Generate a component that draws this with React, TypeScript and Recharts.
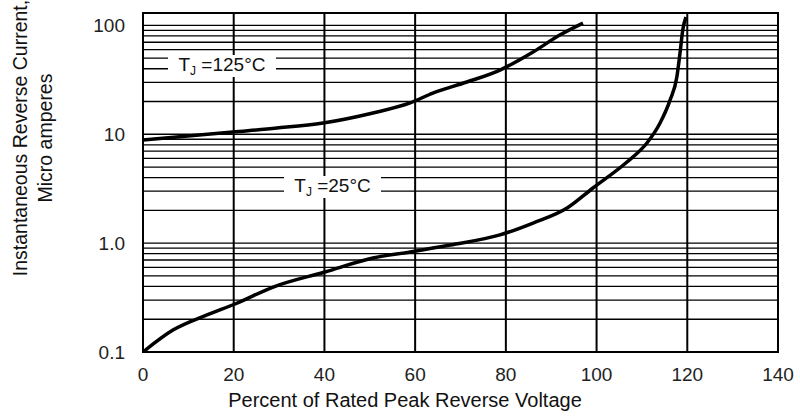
import {
  LineChart,
  Line,
  XAxis,
  YAxis,
  CartesianGrid,
  ReferenceArea,
} from "recharts";

// percent of rated peak reverse voltage vs reverse current (uA)
const pctT125 = [0, 19.8, 29.5, 39.7, 50.7, 58.9, 63.9, 71.4, 78.7, 86.0, 91.9, 97.0];
const curT125 = [8.86, 10.5, 11.4, 12.7, 15.7, 19.4, 23.9, 30.2, 38.9, 57.0, 81.6, 105];

const pctT25 = [
  0, 6.6, 14.1, 20.3, 28.7, 40.1, 50.7, 58.9, 67.7, 78.7, 86.0, 93.5, 99.2,
  106.7, 111.1, 114.0, 116.2, 117.7, 118.4, 119.0, 119.7,
];
const curT25 = [
  0.1, 0.159, 0.219, 0.276, 0.395, 0.543, 0.73, 0.829, 0.961, 1.19, 1.53, 2.1,
  3.21, 5.56, 8.31, 12.7, 20.6, 33.6, 55.8, 90.7, 119,
];

const X_TICKS = [0, 20, 40, 60, 80, 100, 120, 140];
const Y_TICKS = [
  0.1, 0.2, 0.3, 0.4, 0.5, 0.6, 0.7, 0.8, 0.9,
  1, 2, 3, 4, 5, 6, 7, 8, 9,
  10, 20, 30, 40, 50, 60, 70, 80, 90,
  100,
];
const Y_LABELS: Record<string, string> = { "0.1": "0.1", "1": "1.0", "10": "10", "100": "100" };

const FONT = "'Liberation Sans', Arial, sans-serif";

const dataT125 = pctT125.map((p, i) => ({ pct: p, cur: curT125[i] }));
const dataT25 = pctT25.map((p, i) => ({ pct: p, cur: curT25[i] }));

function TempLabel({ left, top, width, temp }: { left: number; top: number; width: number; temp: string }) {
  return (
    <div
      style={{
        position: "absolute",
        left,
        top,
        width,
        height: 22,
        background: "#fff",
        fontFamily: FONT,
        fontSize: 19,
        color: "#111",
        lineHeight: "20px",
        textAlign: "center",
        whiteSpace: "nowrap",
      }}
    >
      T<sub style={{ fontSize: 12, verticalAlign: "-4px" }}>J</sub> ={temp}°C
    </div>
  );
}

export default function App() {
  return (
    <div style={{ position: "absolute", left: 0, top: 0, width: 800, height: 419, background: "#fff" }}>
      <LineChart
        width={800}
        height={419}
        margin={{ top: 13, right: 22, bottom: 37, left: 83 }}
        style={{ fontFamily: FONT }}
      >
        <CartesianGrid horizontal={true} vertical={false} stroke="#000" strokeWidth={1.3} />
        <CartesianGrid horizontal={false} vertical={true} stroke="#000" strokeWidth={2} />
        <XAxis
          dataKey="pct"
          type="number"
          domain={[0, 140]}
          ticks={X_TICKS}
          tickLine={false}
          axisLine={{ stroke: "#000", strokeWidth: 2 }}
          tickMargin={10}
          tick={{ fill: "#222", fontSize: 19 }}
          allowDuplicatedCategory={false}
        />
        <YAxis
          type="number"
          scale="log"
          domain={[0.1, 130]}
          ticks={Y_TICKS}
          allowDataOverflow
          width={60}
          tickLine={false}
          axisLine={{ stroke: "#000", strokeWidth: 2 }}
          tickMargin={12}
          interval={0}
          tick={{ fill: "#222", fontSize: 19 }}
          tickFormatter={(v: number) => Y_LABELS[String(v)] ?? ""}
        />
        <ReferenceArea
          x1={0}
          x2={140}
          y1={0.1}
          y2={130}
          fill="none"
          stroke="#000"
          strokeWidth={2}
          ifOverflow="visible"
        />
        <Line
          data={dataT125}
          dataKey="cur"
          type="monotone"
          stroke="#000"
          strokeWidth={3.5}
          dot={false}
          isAnimationActive={false}
        />
        <Line
          data={dataT25}
          dataKey="cur"
          type="monotone"
          stroke="#000"
          strokeWidth={3.5}
          dot={false}
          isAnimationActive={false}
        />
      </LineChart>

      <TempLabel left={168} top={55} width={108} temp="125" />
      <TempLabel left={284} top={176} width={97} temp="25" />

      <div
        style={{
          position: "absolute",
          left: 0,
          top: 388,
          width: 800,
          paddingLeft: 10,
          boxSizing: "border-box",
          textAlign: "center",
          fontFamily: FONT,
          fontSize: 20,
          color: "#111",
          lineHeight: "24px",
        }}
      >
        Percent of Rated Peak Reverse Voltage
      </div>

      <div
        style={{
          position: "absolute",
          left: 33,
          top: 138,
          width: 0,
          height: 0,
        }}
      >
        <div
          style={{
            position: "absolute",
            transform: "translate(-50%, -50%) rotate(-90deg)",
            whiteSpace: "nowrap",
            textAlign: "center",
            fontFamily: FONT,
            fontSize: 19.5,
            color: "#111",
            lineHeight: "25px",
          }}
        >
          Instantaneous Reverse Current,
          <br />
          Micro amperes
        </div>
      </div>
    </div>
  );
}
